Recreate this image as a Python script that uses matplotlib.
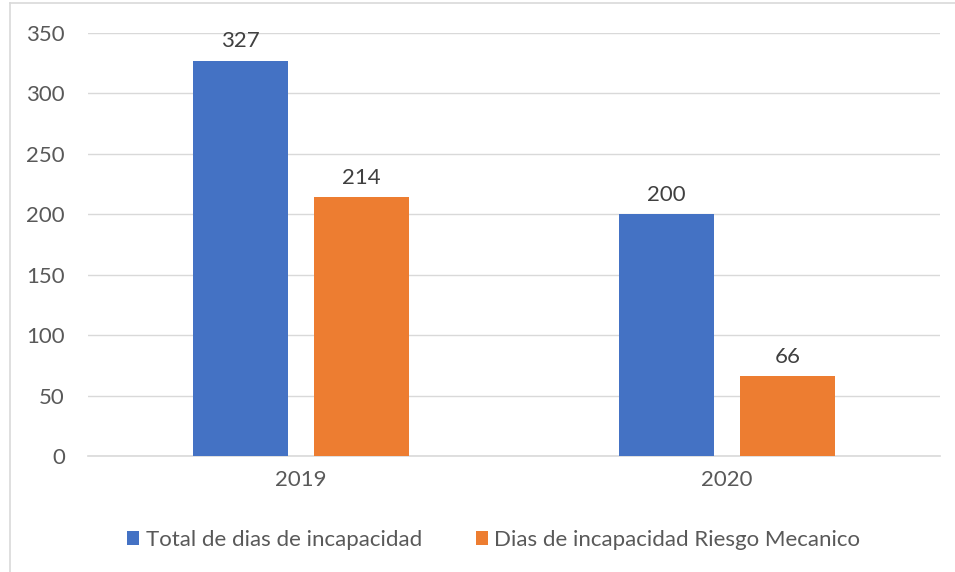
import numpy as np
import matplotlib.pyplot as plt
from matplotlib.lines import Line2D

plt.rcParams['font.family'] = ['Lato', 'DejaVu Sans']

years = ['2019', '2020']
total_dias = [327, 200]
riesgo_mecanico = [214, 66]
series_labels = ['Total de dias de incapacidad', 'Dias de incapacidad Riesgo Mecanico']

blue = '#4472C4'
orange = '#ED7D31'
text_col = '#595959'
grid_col = '#D9D9D9'
fs = 16

fig = plt.figure(figsize=(9.55, 5.72), dpi=100)
ax = fig.add_axes([0.0921, 0.2028, 0.8921, 0.7395])

x = np.arange(len(years))
w = 0.223
off = 0.1425
b1 = ax.bar(x - off, total_dias, w, color=blue, label=series_labels[0], zorder=3)
b2 = ax.bar(x + off, riesgo_mecanico, w, color=orange, label=series_labels[1], zorder=3)

for bars in (b1, b2):
    for r in bars:
        ax.annotate(f'{int(r.get_height())}', (r.get_x() + r.get_width() / 2, r.get_height()),
                    xytext=(0, 7), textcoords='offset points', ha='center', va='bottom',
                    fontsize=fs, color='#404040')

ax.set_xlim(-0.5, 1.5)
ax.set_ylim(0, 350)
ax.set_yticks(np.arange(0, 351, 50))
ax.set_xticks(x)
ax.set_xticklabels(years)
ax.yaxis.grid(True, color=grid_col, linewidth=1)
ax.set_axisbelow(True)
for s in ['top', 'right', 'left']:
    ax.spines[s].set_visible(False)
ax.spines['bottom'].set_color(grid_col)
ax.spines['bottom'].set_linewidth(1.2)
ax.tick_params(length=0, labelsize=fs, labelcolor=text_col)
ax.tick_params(axis='y', pad=16.5)
ax.tick_params(axis='x', pad=10)

ax.legend(loc='center', bbox_to_anchor=(0.517, 1 - 540 / 572), bbox_transform=fig.transFigure,
          ncol=2, frameon=False, fontsize=fs, labelcolor=text_col,
          handlelength=0.55, handleheight=0.55, handletextpad=0.3, columnspacing=2.4)

# outer chart frame
fig.add_artist(Line2D([10 / 955, 10 / 955], [0, 1 - 3 / 572], transform=fig.transFigure,
                      color=grid_col, linewidth=1.2))
fig.add_artist(Line2D([10 / 955, 1], [1 - 3 / 572, 1 - 3 / 572], transform=fig.transFigure,
                      color=grid_col, linewidth=1.2))

fig.savefig('out.png', dpi=100)
